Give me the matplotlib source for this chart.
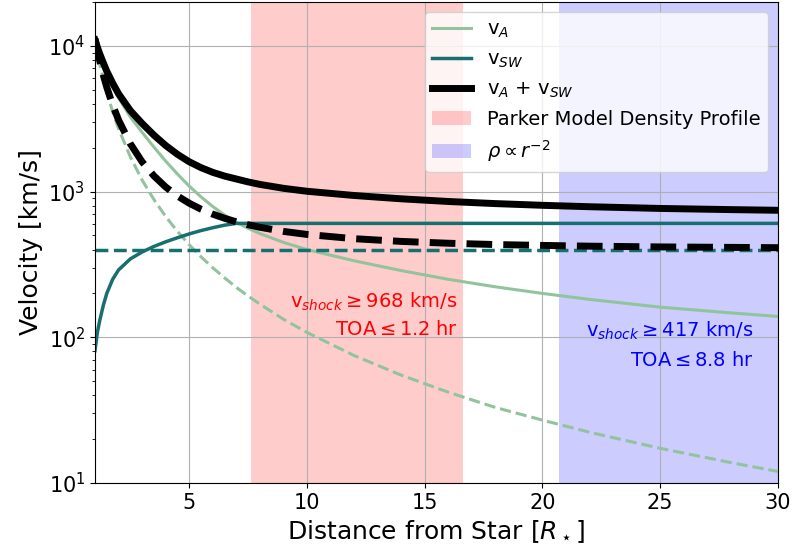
import matplotlib
matplotlib.use('Agg')
import matplotlib.pyplot as plt

# Distance from star [R_sun]
r = [1.0, 1.1, 1.2, 1.35, 1.5, 1.75, 2.0, 2.5, 3.0, 3.5, 4.0, 4.5, 5.0, 5.5,
     6.0, 6.5, 7.0, 7.5, 8.0, 9.0, 10.0, 12.0, 14.0, 16.0, 18.0, 20.0,
     22.0, 25.0, 28.0, 30.0]

# Alfven speed, Parker density model [km/s]
v_alfven = [10900, 9700, 8700, 7500, 6500, 5300, 4400, 3250, 2550, 2020,
            1620, 1320, 1090, 920, 790, 690, 615, 560, 515, 448, 400, 335,
            287, 250, 222, 200, 182, 161, 147, 139]

# Alfven speed, rho ~ r^-2 model [km/s]
v_alfven_r2 = [10800, 8930, 7500, 5930, 4800, 3530, 2700, 1730, 1200, 882,
               675, 533, 432, 357, 300, 256, 220, 192, 169, 133, 108, 75,
               55, 42, 33, 27, 22.3, 17.3, 13.8, 12.0]

# Solar wind speed [km/s]
v_wind = [81, 108, 130, 165, 200, 250, 290, 345, 385, 420, 452, 482, 512,
          540, 565, 588, 605, 605, 605, 605, 605, 605, 605, 605, 605, 605,
          605, 605, 605, 605]
v_wind_const = [400] * len(r)

# Black curves (v_A + v_SW)
v_total = [10981, 9808, 8830, 7665, 6700, 5550, 4690, 3595, 2935, 2440,
           2072, 1802, 1602, 1460, 1355, 1278, 1220, 1165, 1120, 1053,
           1005, 940, 892, 855, 827, 805, 787, 766, 752, 744]
v_total_r2 = [11200, 9330, 7900, 6330, 5200, 3930, 3100, 2130, 1600, 1282,
              1075, 933, 832, 757, 700, 656, 620, 592, 569, 533, 508, 475,
              455, 442, 433, 427, 422, 417, 414, 412]

parker_range = (7.64, 16.63)
r2_range = (20.72, 30.0)

GREEN = '#93c39d'
TEAL = '#17706f'

fig = plt.figure(figsize=(7.93, 5.52), dpi=100)
ax = fig.add_axes([95 / 793, 69 / 552, 683 / 793, 481 / 552])

ax.axvspan(*parker_range, color='red', alpha=0.2, lw=0,
           label='Parker Model Density Profile')
ax.axvspan(*r2_range, color='blue', alpha=0.2, lw=0,
           label=r'$\rho \propto r^{-2}$')

ax.plot(r, v_alfven, color=GREEN, lw=2.2, label='v$_A$')
ax.plot(r, v_alfven_r2, color=GREEN, lw=2.2, ls='--')
ax.plot(r, v_wind, color=TEAL, lw=2.5, label='v$_{SW}$')
ax.plot(r, v_wind_const, color=TEAL, lw=2.5, ls='--')
ax.plot(r, v_total, color='black', lw=5, label='v$_A$ + v$_{SW}$')
ax.plot(r, v_total_r2, color='black', lw=5, ls='--')

# shock speed / time-of-arrival notes
ax.text(16.4, 174, r'v$_{shock}\geq$968 km/s', color='red', fontsize=14,
        ha='right', va='center')
ax.text(16.4, 113, r'TOA$\leq$1.2 hr', color='red', fontsize=14,
        ha='right', va='center')
ax.text(28.95, 111, r'v$_{shock}\geq$417 km/s', color='blue', fontsize=14,
        ha='right', va='center')
ax.text(28.95, 69, r'TOA$\leq$8.8 hr', color='blue', fontsize=14,
        ha='right', va='center')

ax.set_yscale('log')
ax.set_xlim(1, 30)
ax.set_ylim(10, 2.0e4)
ax.grid(True, which='major')
ax.tick_params(labelsize=15)
ax.set_xlabel(r'Distance from Star [$R_\star$]', fontsize=18)
ax.set_ylabel('Velocity [km/s]', fontsize=18)

h, l = ax.get_legend_handles_labels()
order = [2, 3, 4, 0, 1]
ax.legend([h[i] for i in order], [l[i] for i in order], loc='upper right',
          fontsize=14)

fig.savefig('out.png', dpi=100)
